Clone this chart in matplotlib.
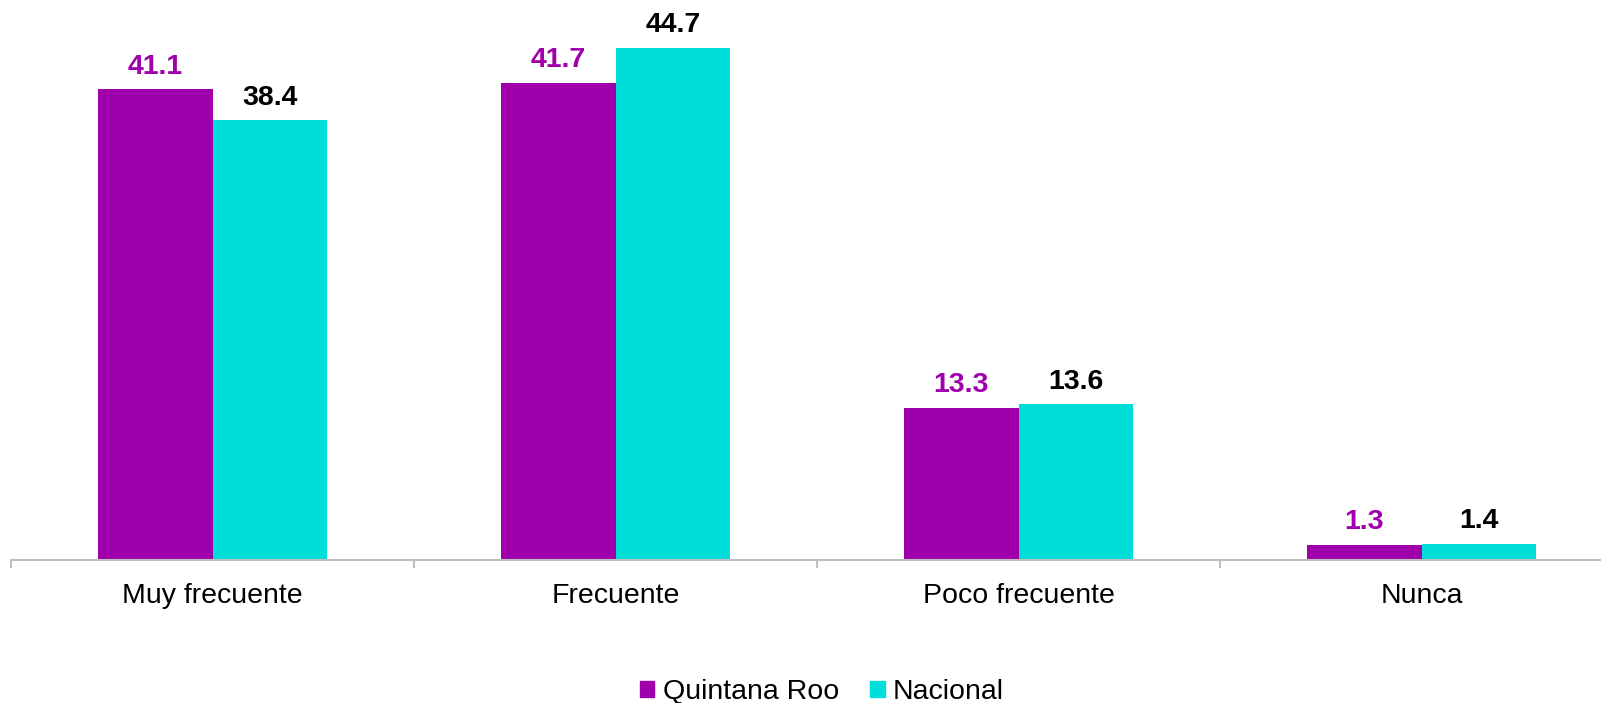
import matplotlib
matplotlib.use("Agg")
import matplotlib.pyplot as plt
from matplotlib.patches import Patch
import numpy as np

categories = ["Muy frecuente", "Frecuente", "Poco frecuente", "Nunca"]
quintana_roo = [41.1, 41.7, 13.3, 1.3]
nacional = [38.4, 44.7, 13.6, 1.4]
series_names = ["Quintana Roo", "Nacional"]

purple = "#A000AC"
cyan = "#00DEDA"
plt.rcParams['font.family'] = ['Liberation Sans', 'DejaVu Sans']

W, H = 1601, 703
fig = plt.figure(figsize=(W / 100, H / 100), dpi=100)
# axes: left at 11px, bottom at 560px from top, category width 403 px
left_px, bottom_px, cat_px = 11, 560, 403
ymax = 48.0
px_per_unit = 11.45
ax_h_px = ymax * px_per_unit
ax = fig.add_axes([left_px / W, (H - bottom_px) / H, 4 * cat_px / W, ax_h_px / H])

x = np.arange(len(categories)) + 0.5
bw = 0.285
ax.bar(x - bw / 2, quintana_roo, bw, color=purple, label=series_names[0])
ax.bar(x + bw / 2, nacional, bw, color=cyan, label=series_names[1])

for xi, v in zip(x, quintana_roo):
    ax.annotate(f"{v:.1f}", (xi - bw / 2, v), xytext=(0, 7), textcoords="offset points",
                ha="center", va="bottom", fontsize=20.5, fontweight="bold", color=purple)
for xi, v in zip(x, nacional):
    ax.annotate(f"{v:.1f}", (xi + bw / 2, v), xytext=(0, 7), textcoords="offset points",
                ha="center", va="bottom", fontsize=20.5, fontweight="bold", color="black")

ax.set_xlim(0, 4)
ax.set_ylim(0, ymax)
ax.set_xticks([0, 1, 2, 3, 4])
ax.set_xticklabels([])
ax.set_xticks(x, minor=True)
ax.set_xticklabels(categories, minor=True, fontsize=20.5)
ax.tick_params(axis="x", which="major", length=6, width=1.5, color="#BFBFBF")
ax.tick_params(axis="x", which="minor", length=0, pad=16.5)
ax.set_yticks([])
for s in ["top", "right", "left"]:
    ax.spines[s].set_visible(False)
ax.spines["bottom"].set_color("#BFBFBF")
ax.spines["bottom"].set_linewidth(1.5)

handles = [Patch(color=purple), Patch(color=cyan)]
fig.legend(handles, series_names, loc="center", bbox_to_anchor=(822 / W, 1 - 692 / H),
           ncol=2, frameon=False, fontsize=20.5, handlelength=0.5, handleheight=0.5,
           handletextpad=0.3, columnspacing=1.1)

fig.savefig("out.png", dpi=100)
